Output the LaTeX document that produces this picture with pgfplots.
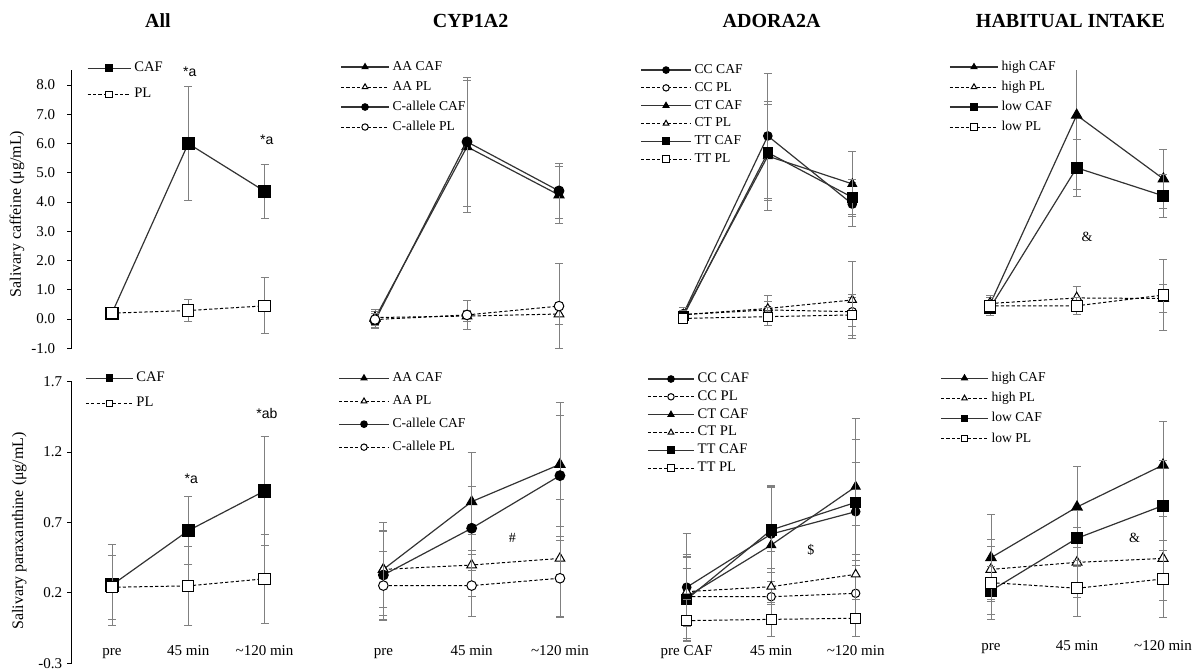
\documentclass[border=0pt]{standalone}
\usepackage{fontspec}
\setmainfont{Liberation Serif}
\newfontfamily\sansf{Liberation Sans}
\usepackage{pgfplots}
\pgfplotsset{compat=1.18}

\tikzset{
  ann/.style={font=\sansf\fontsize{7}{8}\selectfont},
  sym/.style={font=\fontsize{7}{8}\selectfont},
}
\pgfplotsset{
  eb/.style={/pgfplots/error bars/y dir=both, /pgfplots/error bars/y explicit,
    /pgfplots/error bars/error bar style={solid, black!50, line width=0.45pt},
    /pgfplots/error bars/error mark options={solid, rotate=90, black!50, mark size=2pt, line width=0.45pt}},
  caf/.style={solid, black!80, line width=0.6pt, mark options={solid, fill=black, draw=black}, eb},
  pl/.style={black, line width=0.5pt, dash pattern=on 1.6pt off 1.1pt, mark options={solid, fill=white, draw=black}, eb},
  panel/.style={scale only axis, anchor=south west, xmin=-0.5, xmax=2.5, xtick={0,1,2},
    clip mode=individual,
    /pgf/number format/assume math mode=true,
    tick label style={font=\fontsize{7.5}{9}\selectfont},
    label style={font=\fontsize{8}{9}\selectfont},
    ylabel style={anchor=center},
    legend cell align=left,
    legend style={draw=none, fill=none, inner sep=0pt, anchor=north west,
      font=\fontsize{6.8}{8}\selectfont,
      nodes={inner sep=0pt, text height=4.8pt, text depth=1.4pt},
      column sep=1.5pt},
    legend image post style={mark size=1.6pt}},
  leglen/.style={legend image code/.code={\draw[mark repeat=2,mark phase=2] plot coordinates {(0pt,0pt) (0.5*#1,0pt) (#1,0pt)};}},
  toprow/.style={panel, ymin=-1, ymax=8.5, height=138.925pt, hide x axis},
  botrow/.style={panel, ymin=-0.3, ymax=1.7, height=140.8pt,
    xticklabels={pre,45 min,{\textasciitilde}120 min},
    axis x line*=bottom, x axis line style={draw=none}, xtick style={draw=none},
    xticklabel style={anchor=base, yshift=4.15pt}},
  yleft/.style={axis y line*=left, y axis line style={-, black, line width=0.5pt},
    ytick style={black, line width=0.5pt}, tick align=outside, major tick length=2.3pt,
    xmin=-0.525, width=115.4pt,
    yticklabel style={/pgf/number format/fixed, /pgf/number format/fixed zerofill, /pgf/number format/precision=1}},
}

\begin{document}
\begin{tikzpicture}
\useasboundingbox (0,0) rectangle (597.5pt,335pt);
\node[anchor=base, font=\bfseries\fontsize{10}{12}\selectfont] at (79pt,321pt) {All};
\node[anchor=base, font=\bfseries\fontsize{10}{12}\selectfont] at (235.3pt,321pt) {CYP1A2};
\node[anchor=base, font=\bfseries\fontsize{10}{12}\selectfont] at (385.8pt,321pt) {ADORA2A};
\node[anchor=base, font=\bfseries\fontsize{10}{12}\selectfont] at (535.25pt,321pt) {HABITUAL INTAKE};

% ---------- All, caffeine
\begin{axis}[toprow, yleft, at={(35.95pt,160.875pt)},
  ytick={-1,0,...,8}, ylabel={Salivary caffeine (μg/mL)},
  yticklabel style={xshift=-2.5pt},
  ylabel style={at={(axis description cs:-0.238,0.483)}},
  leglen=21.5pt, legend style={at={(0.064,1.032)}, row sep=7pt, font=\fontsize{7.3}{8}\selectfont}]
\addplot[caf, mark=square*, mark size=3pt] coordinates {(0,0.2) +- (0,0.15) (1,6.0) +- (0,1.95) (2,4.37) +- (0,0.93)};
\addlegendentry{CAF}
\addplot[pl, mark=square*, mark size=2.8pt] coordinates {(0,0.2) +- (0,0.12) (1,0.29) +- (0,0.37) (2,0.45) +- (0,0.96)};
\addlegendentry{PL}
\node[ann] at (axis cs:1.02,8.44) {*a};
\node[ann] at (axis cs:2.03,6.12) {*a};
\end{axis}

% ---------- CYP1A2, caffeine
\begin{axis}[toprow, hide y axis, at={(164.5pt,160.875pt)}, width=138pt,
  leglen=24pt, legend style={at={(0.040,1.036)}, row sep=3.8pt}]
\addplot[caf, mark=triangle*, mark size=2.8pt] coordinates {(0,0.02) +- (0,0.3) (1,5.89) +- (0,2.25) (2,4.24) +- (0,0.97)};
\addlegendentry{AA CAF}
\addplot[pl, mark=triangle*, mark size=2.8pt] coordinates {(0,0.05) +- (0,0.2) (1,0.10) +- (0,0.2) (2,0.17) +- (0,0.35)};
\addlegendentry{AA PL}
\addplot[caf, mark=*, mark size=2.4pt] coordinates {(0,-0.06) +- (0,0.25) (1,6.06) +- (0,2.2) (2,4.38) +- (0,0.94)};
\addlegendentry{C-allele CAF}
\addplot[pl, mark=*, mark size=2.4pt] coordinates {(0,-0.02) +- (0,0.2) (1,0.14) +- (0,0.5) (2,0.44) +- (0,1.45)};
\addlegendentry{C-allele PL}
\end{axis}

% ---------- ADORA2A, caffeine
\begin{axis}[toprow, hide y axis, at={(320.525pt,160.875pt)}, width=126.75pt,
  leglen=25pt, legend style={at={(-0.004,1.025)}, row sep=2.7pt}]
\addplot[caf, mark=*, mark size=2.1pt] coordinates {(0,0.18) +- (0,0.2) (1,6.26) +- (0,2.15) (2,3.93) +- (0,0.75)};
\addlegendentry{CC CAF}
\addplot[pl, mark=*, mark size=2.1pt] coordinates {(0,0.15) +- (0,0.15) (1,0.31) +- (0,0.3) (2,0.25) +- (0,0.5)};
\addlegendentry{CC PL}
\addplot[caf, mark=triangle*, mark size=2.4pt] coordinates {(0,0.15) +- (0,0.25) (1,5.57) +- (0,1.87) (2,4.62) +- (0,1.1)};
\addlegendentry{CT CAF}
\addplot[pl, mark=triangle*, mark size=2.4pt] coordinates {(0,0.15) +- (0,0.15) (1,0.36) +- (0,0.45) (2,0.65) +- (0,1.31)};
\addlegendentry{CT PL}
\addplot[caf, mark=square*, mark size=2.3pt] coordinates {(0,0.1) +- (0,0.2) (1,5.69) +- (0,1.65) (2,4.16) +- (0,0.6)};
\addlegendentry{TT CAF}
\addplot[pl, mark=square*, mark size=2.3pt] coordinates {(0,0.02) +- (0,0.1) (1,0.08) +- (0,0.3) (2,0.14) +- (0,0.7)};
\addlegendentry{TT PL}
\end{axis}

% ---------- Habitual intake, caffeine
\begin{axis}[toprow, hide y axis, at={(473.325pt,160.875pt)}, width=130.05pt,
  leglen=24pt, legend style={at={(0.009,1.036)}, row sep=3.8pt}]
\addplot[caf, mark=triangle*, mark size=2.9pt] coordinates {(0,0.5) +- (0,0.3) (1,6.97) +- (0,2.55) (2,4.79) +- (0,1.0)};
\addlegendentry{high CAF}
\addplot[pl, mark=triangle*, mark size=2.9pt] coordinates {(0,0.53) +- (0,0.2) (1,0.72) +- (0,0.4) (2,0.7) +- (0,0.48)};
\addlegendentry{high PL}
\addplot[caf, mark=square*, mark size=2.7pt] coordinates {(0,0.38) +- (0,0.25) (1,5.17) +- (0,0.97) (2,4.21) +- (0,0.73)};
\addlegendentry{low CAF}
\addplot[pl, mark=square*, mark size=2.7pt] coordinates {(0,0.45) +- (0,0.2) (1,0.45) +- (0,0.3) (2,0.82) +- (0,1.2)};
\addlegendentry{low PL}
\node[sym] at (axis cs:1.12,2.8) {\&};
\end{axis}

% ---------- All, paraxanthine
\begin{axis}[botrow, yleft, at={(35.95pt,3.35pt)},
  ytick={-0.3,0.2,0.7,1.2,1.7}, ylabel={Salivary paraxanthine (μg/mL)},
  yticklabel style={xshift=1pt}, xticklabel style={yshift=2.3pt},
  ylabel style={at={(axis description cs:-0.228,0.47)}},
  leglen=23.5pt, legend style={at={(0.056,1.036)}, row sep=6.5pt, font=\fontsize{7.3}{8}\selectfont}]
\addplot[caf, mark=square*, mark size=3pt] coordinates {(0,0.256) +- (0,0.29) (1,0.642) +- (0,0.24) (2,0.924) +- (0,0.39)};
\addlegendentry{CAF}
\addplot[pl, mark=square*, mark size=2.8pt] coordinates {(0,0.24) +- (0,0.225) (1,0.25) +- (0,0.28) (2,0.30) +- (0,0.315)};
\addlegendentry{PL}
\node[ann] at (axis cs:1.04,1.014) {*a};
\node[ann] at (axis cs:2.03,1.475) {*ab};
\end{axis}

% ---------- CYP1A2, paraxanthine
\begin{axis}[botrow, hide y axis, at={(169.6pt,3.35pt)}, width=132.45pt,
  leglen=25pt, legend style={at={(-0.0045,1.036)}, row sep=5.3pt}]
\addplot[caf, mark=triangle*, mark size=2.8pt] coordinates {(0,0.367) +- (0,0.33) (1,0.848) +- (0,0.35) (2,1.113) +- (0,0.44)};
\addlegendentry{AA CAF}
\addplot[pl, mark=triangle*, mark size=2.8pt] coordinates {(0,0.367) +- (0,0.27) (1,0.398) +- (0,0.22) (2,0.445) +- (0,0.42)};
\addlegendentry{AA PL}
\addplot[caf, mark=*, mark size=2.4pt] coordinates {(0,0.327) +- (0,0.32) (1,0.659) +- (0,0.3) (2,1.033) +- (0,0.43)};
\addlegendentry{C-allele CAF}
\addplot[pl, mark=*, mark size=2.4pt] coordinates {(0,0.252) +- (0,0.24) (1,0.252) +- (0,0.22) (2,0.304) +- (0,0.27)};
\addlegendentry{C-allele PL}
\node[sym] at (axis cs:1.46,0.588) {\#};
\end{axis}

% ---------- ADORA2A, paraxanthine
\begin{axis}[botrow, hide y axis, at={(322.225pt,3.35pt)}, width=126.75pt,
  xticklabels={pre CAF,45 min,{\textasciitilde}120 min},
  leglen=23pt, legend style={at={(0.010,1.033)}, row sep=2.7pt, font=\fontsize{7.3}{8}\selectfont}]
\addplot[caf, mark=*, mark size=2.1pt] coordinates {(0,0.24) +- (0,0.38) (1,0.618) +- (0,0.34) (2,0.777) +- (0,0.35)};
\addlegendentry{CC CAF}
\addplot[pl, mark=*, mark size=2.1pt] coordinates {(0,0.173) +- (0,0.2) (1,0.173) +- (0,0.2) (2,0.197) +- (0,0.2)};
\addlegendentry{CC PL}
\addplot[caf, mark=triangle*, mark size=2.5pt] coordinates {(0,0.173) +- (0,0.3) (1,0.54) +- (0,0.42) (2,0.955) +- (0,0.485)};
\addlegendentry{CT CAF}
\addplot[pl, mark=triangle*, mark size=2.5pt] coordinates {(0,0.209) +- (0,0.25) (1,0.244) +- (0,0.25) (2,0.332) +- (0,0.35)};
\addlegendentry{CT PL}
\addplot[caf, mark=square*, mark size=2.5pt] coordinates {(0,0.154) +- (0,0.3) (1,0.647) +- (0,0.3) (2,0.843) +- (0,0.45)};
\addlegendentry{TT CAF}
\addplot[pl, mark=square*, mark size=2.5pt] coordinates {(0,0.003) +- (0,0.15) (1,0.012) +- (0,0.12) (2,0.02) +- (0,0.13)};
\addlegendentry{TT PL}
\node[sym] at (axis cs:1.47,0.505) {\$};
\end{axis}

% ---------- Habitual intake, paraxanthine (categories at 1, 2, 3)
\begin{axis}[botrow, hide y axis, at={(474pt,3.35pt)}, width=129pt,
  xmin=0.5, xmax=3.5, xtick={1,2,3},
  xticklabels={pre,45 min,{\textasciitilde}120 min},
  xticklabel style={yshift=2pt},
  leglen=23.5pt, legend style={at={(-0.031,1.036)}, row sep=3.9pt}]
\addplot[caf, mark=triangle*, mark size=2.9pt] coordinates {(1,0.45) +- (0,0.31) (2,0.81) +- (0,0.29) (3,1.108) +- (0,0.31)};
\addlegendentry{high CAF}
\addplot[pl, mark=triangle*, mark size=2.9pt] coordinates {(1,0.367) +- (0,0.21) (2,0.417) +- (0,0.25) (3,0.445) +- (0,0.3)};
\addlegendentry{high PL}
\addplot[caf, mark=square*, mark size=2.7pt] coordinates {(1,0.216) +- (0,0.17) (2,0.588) +- (0,0.2) (3,0.82) +- (0,0.32)};
\addlegendentry{low CAF}
\addplot[pl, mark=square*, mark size=2.7pt] coordinates {(1,0.273) +- (0,0.26) (2,0.233) +- (0,0.2) (3,0.299) +- (0,0.27)};
\addlegendentry{low PL}
\node[sym] at (axis cs:2.67,0.588) {\&};
\end{axis}
\end{tikzpicture}
\end{document}
